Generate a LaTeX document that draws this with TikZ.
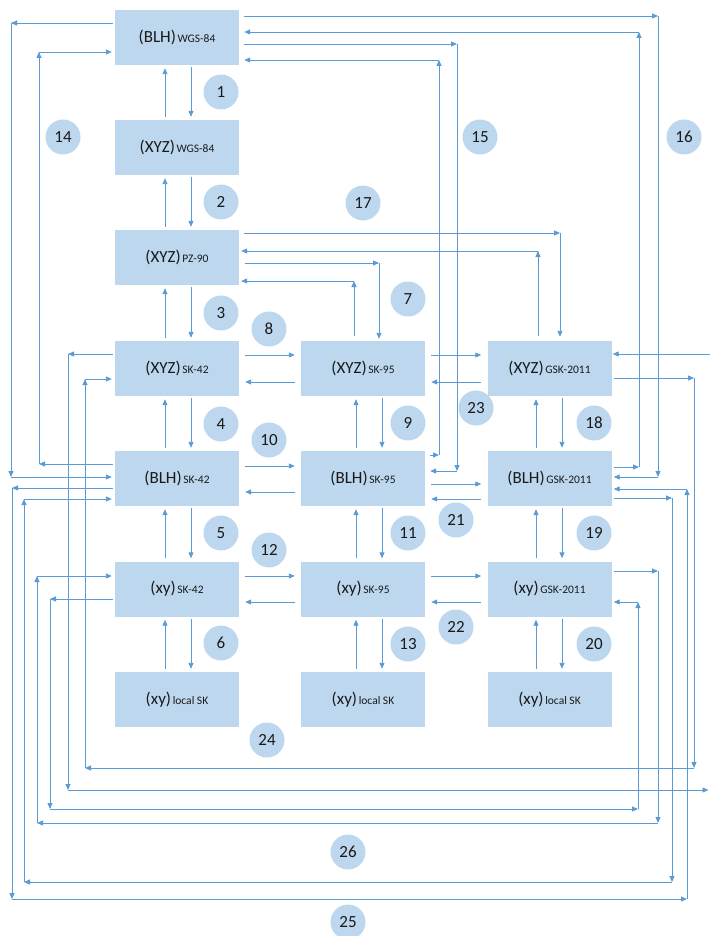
\documentclass[tikz,border=0pt]{standalone}
\usepackage{fontspec}
\setmainfont{Carlito}
\usetikzlibrary{arrows.meta,calc}
\definecolor{boxfill}{HTML}{BDD7EE}
\definecolor{linec}{HTML}{5B9BD5}
\definecolor{txt}{HTML}{1A1A1A}
\newcommand\bigt[1]{{\fontsize{17}{19}\selectfont #1}}
\newcommand\smt[1]{{\fontsize{11.5}{13}\selectfont #1}}
\newcommand\myvp[4]{%
  \draw[arr,shorten <=3pt,shorten >=3pt] ($(#2.north)+(#3,0)$) -- ($(#1.south)+(#3,0)$);
  \draw[arr,shorten <=2pt,shorten >=3pt] ($(#1.south)+(#4,0)$) -- ($(#2.north)+(#4,0)$);}
\newcommand\myhp[4]{%
  \draw[arr,shorten <=6pt,shorten >=6pt] ($(#1.east)+(0,#3)$) -- ($(#2.west)+(0,#3)$);
  \draw[arr,shorten <=6pt,shorten >=6pt] ($(#2.west)+(0,#4)$) -- ($(#1.east)+(0,#4)$);}
\tikzset{
  box/.style={fill=boxfill, minimum width=124pt, minimum height=55pt, inner sep=0pt, text=txt},
  num/.style={circle, fill=boxfill, minimum size=35pt, inner sep=0pt, text=txt, font=\fontsize{17}{19}\selectfont},
  arr/.style={draw=linec, line width=0.9pt, -{Triangle[length=6pt,width=5pt]}},
}
\begin{document}
\begin{tikzpicture}[x=1pt,y=-1pt]
\useasboundingbox (0,0) rectangle (709,936);
% boxes
\node[box] (bw)  at (177,37.5)  {\bigt{(BLH)}\,\smt{WGS-84}};
\node[box] (xw)  at (177,147.5) {\bigt{(XYZ)}\,\smt{WGS-84}};
\node[box] (pz)  at (177,257.5) {\bigt{(XYZ)}\,\smt{PZ-90}};
\node[box] (x42) at (177,368.5) {\bigt{(XYZ)}\,\smt{SK-42}};
\node[box] (x95) at (363,368.5) {\bigt{(XYZ)}\,\smt{SK-95}};
\node[box] (x11) at (549.5,368.5) {\bigt{(XYZ)}\,\smt{GSK-2011}};
\node[box] (b42) at (177,478.5) {\bigt{(BLH)}\,\smt{SK-42}};
\node[box] (b95) at (363,478.5) {\bigt{(BLH)}\,\smt{SK-95}};
\node[box] (b11) at (549.5,478.5) {\bigt{(BLH)}\,\smt{GSK-2011}};
\node[box] (p42) at (177,589) {\bigt{(xy)}\,\smt{SK-42}};
\node[box] (p95) at (363,589) {\bigt{(xy)}\,\smt{SK-95}};
\node[box] (p11) at (549.5,589) {\bigt{(xy)}\,\smt{GSK-2011}};
\node[box] (l42) at (177,699.5) {\bigt{(xy)}\,\smt{local SK}};
\node[box] (l95) at (363,699.5) {\bigt{(xy)}\,\smt{local SK}};
\node[box] (l11) at (549.5,699.5) {\bigt{(xy)}\,\smt{local SK}};
% number circles
\node[num] (n1) at (221,92) {1};
\node[num] (n2) at (221,202) {2};
\node[num] (n3) at (221,313) {3};
\node[num] (n4) at (221,424) {4};
\node[num] (n5) at (221,533) {5};
\node[num] (n6) at (221,643) {6};
\node[num] (n7) at (408,299) {7};
\node[num] (n8) at (269,329) {8};
\node[num] (n9) at (408,423) {9};
\node[num] (n10) at (269,440) {10};
\node[num] (n11) at (408,533) {11};
\node[num] (n12) at (269,550) {12};
\node[num] (n13) at (408,644) {13};
\node[num] (n14) at (63,137) {14};
\node[num] (n15) at (480,137) {15};
\node[num] (n16) at (684,137) {16};
\node[num] (n17) at (363,203) {17};
\node[num] (n18) at (594,423) {18};
\node[num] (n19) at (594,533) {19};
\node[num] (n20) at (594,644) {20};
\node[num] (n21) at (456,520) {21};
\node[num] (n22) at (456,627) {22};
\node[num] (n23) at (476,408) {23};
\node[num] (n24) at (267,740) {24};
\node[num] (n25) at (348,922) {25};
\node[num] (n26) at (348,852) {26};
% vertical pairs
\myvp{bw}{xw}{-12}{14}
\myvp{xw}{pz}{-12}{14}
\myvp{pz}{x42}{-12}{14}
\myvp{x42}{b42}{-12}{14}
\myvp{b42}{p42}{-12}{14}
\myvp{p42}{l42}{-12}{14}
\myvp{x95}{b95}{-7}{19}
\myvp{b95}{p95}{-7}{19}
\myvp{p95}{l95}{-7}{19}
\myvp{x11}{b11}{-13.5}{12.5}
\myvp{b11}{p11}{-13.5}{12.5}
\myvp{p11}{l11}{-13.5}{12.5}
% horizontal pairs
\myhp{x42}{x95}{-13.5}{13.5}
\myhp{x95}{x11}{-13.5}{13.5}
\myhp{b42}{b95}{-12.5}{13.5}
\myhp{b95}{b11}{5.5}{20.5}
\myhp{p42}{p95}{-13}{13}
\myhp{p95}{p11}{-13}{13}
% corner coordinates
\coordinate (cA1) at (11,23);  \coordinate (cA2) at (11,477);
\coordinate (cB1) at (39,464); \coordinate (cB2) at (39,52);
\coordinate (cC1) at (658,16); \coordinate (cC2) at (658,477);
\coordinate (cD1) at (639,467); \coordinate (cD2) at (639,32);
\coordinate (cE1) at (457,44); \coordinate (cE2) at (457,471);
\coordinate (cF1) at (439,455); \coordinate (cF2) at (439,60);
\coordinate (cG1) at (560,233);
\coordinate (cH1) at (538,251);
\coordinate (cI1) at (379,263);
\coordinate (cJ1) at (354,281);
\coordinate (cK1) at (68,354); \coordinate (cK2) at (68,790); \coordinate (cK3) at (708.5,790); \coordinate (cK4) at (709.5,354);
\coordinate (cL1) at (694,378); \coordinate (cL2) at (694,768); \coordinate (cL3) at (85,768); \coordinate (cL4) at (85,379);
\coordinate (cM1) at (50,599); \coordinate (cM2) at (50,809); \coordinate (cM3) at (638,809); \coordinate (cM4) at (638,602);
\coordinate (cN1) at (658,571); \coordinate (cN2) at (658,823); \coordinate (cN3) at (37,823); \coordinate (cN4) at (37,576);
\coordinate (cO1) at (672,498); \coordinate (cO2) at (672,882); \coordinate (cO3) at (24,882); \coordinate (cO4) at (24,499);
\coordinate (cP1) at (12,488); \coordinate (cP2) at (12,899); \coordinate (cP3) at (687,899); \coordinate (cP4) at (687,489);
% A
\draw[arr,shorten <=2pt] (bw.west |- cA1) -- (cA1);
\draw[arr] (cA1) -- (cA2);
\draw[arr,shorten >=3pt] (cA2) -- (b42.west |- cA2);
% B
\draw[arr,shorten <=2pt] (b42.west |- cB1) -- (cB1);
\draw[arr] (cB1) -- (cB2);
\draw[arr,shorten >=3pt] (cB2) -- (bw.west |- cB2);
% C
\draw[arr,shorten <=5pt] (bw.east |- cC1) -- (cC1);
\draw[arr] (cC1) -- (cC2);
\draw[arr,shorten >=2pt] (cC2) -- (b11.east |- cC2);
% D
\draw[arr,shorten <=2pt] (b11.east |- cD1) -- (cD1);
\draw[arr] (cD1) -- (cD2);
\draw[arr,shorten >=5pt] (cD2) -- (bw.east |- cD2);
% E
\draw[arr,shorten <=5pt] (bw.east |- cE1) -- (cE1);
\draw[arr] (cE1) -- (cE2);
\draw[arr,shorten >=5pt] (cE2) -- (b95.east |- cE2);
% F
\draw[arr,shorten <=5pt] (b95.east |- cF1) -- (cF1);
\draw[arr] (cF1) -- (cF2);
\draw[arr,shorten >=5pt] (cF2) -- (bw.east |- cF2);
% G
\draw[arr,shorten <=5pt] (pz.east |- cG1) -- (cG1);
\draw[arr,shorten >=4pt] (cG1) -- (x11.north -| cG1);
% H
\draw[arr,shorten <=5pt] (x11.north -| cH1) -- (cH1);
\draw[arr,shorten >=2pt] (cH1) -- (pz.east |- cH1);
% I
\draw[arr,shorten <=6pt] (pz.east |- cI1) -- (cI1);
\draw[arr,shorten >=2pt] (cI1) -- (x95.north -| cI1);
% J
\draw[arr,shorten <=5pt] (x95.north -| cJ1) -- (cJ1);
\draw[arr,shorten >=2pt] (cJ1) -- (pz.east |- cJ1);
% K
\draw[arr,shorten <=2pt] (x42.west |- cK1) -- (cK1);
\draw[arr] (cK1) -- (cK2);
\draw[arr] (cK2) -- (cK3);
\draw[arr,shorten >=1pt] (cK4) -- (x11.east |- cK4);
% L
\draw[arr,shorten <=2pt] (x11.east |- cL1) -- (cL1);
\draw[arr] (cL1) -- (cL2);
\draw[arr] (cL2) -- (cL3);
\draw[arr] (cL3) -- (cL4);
\draw[arr,shorten >=3pt] (cL4) -- (x42.west |- cL4);
% M
\draw[arr,shorten <=2pt] (p42.west |- cM1) -- (cM1);
\draw[arr] (cM1) -- (cM2);
\draw[arr] (cM2) -- (cM3);
\draw[arr] (cM3) -- (cM4);
\draw[arr,shorten >=2pt] (cM4) -- (p11.east |- cM4);
% N
\draw[arr,shorten <=2pt] (p11.east |- cN1) -- (cN1);
\draw[arr] (cN1) -- (cN2);
\draw[arr] (cN2) -- (cN3);
\draw[arr] (cN3) -- (cN4);
\draw[arr,shorten >=3pt] (cN4) -- (p42.west |- cN4);
% O
\draw[arr,shorten <=2pt] (b11.east |- cO1) -- (cO1);
\draw[arr] (cO1) -- (cO2);
\draw[arr] (cO2) -- (cO3);
\draw[arr] (cO3) -- (cO4);
\draw[arr,shorten >=3pt] (cO4) -- (b42.west |- cO4);
% P
\draw[arr,shorten <=2pt] (b42.west |- cP1) -- (cP1);
\draw[arr] (cP1) -- (cP2);
\draw[arr] (cP2) -- (cP3);
\draw[arr] (cP3) -- (cP4);
\draw[arr,shorten >=2pt] (cP4) -- (b11.east |- cP4);
\end{tikzpicture}
\end{document}
